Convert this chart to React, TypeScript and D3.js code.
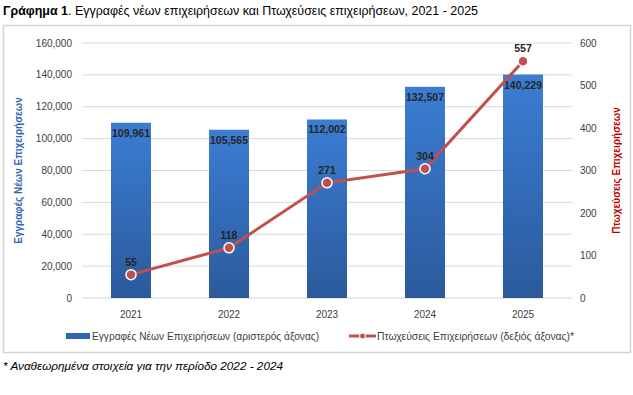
import React from "react";
import * as d3 from "d3";

const years = ["2021", "2022", "2023", "2024", "2025"];
const registrations = [109961, 105565, 112002, 132507, 140229];
const bankruptcies = [55, 118, 271, 304, 557];
const leftTicks = [0, 20000, 40000, 60000, 80000, 100000, 120000, 140000, 160000];
const rightTicks = [0, 100, 200, 300, 400, 500, 600];

const W = 633, H = 395;
const plotL = 82, plotR = 572, plotT = 43, plotB = 298;
const FONT = "'Liberation Sans', Arial, sans-serif";

export default function App() {
  const x = d3.scaleBand<string>().domain(years).range([plotL, plotR]).paddingInner(58 / 98).paddingOuter(29 / 98);
  const yL = d3.scaleLinear().domain([0, 160000]).range([plotB, plotT]);
  const yR = d3.scaleLinear().domain([0, 600]).range([plotB, plotT]);
  const fmt = d3.format(",");
  const cx = (y: string) => (x(y) as number) + x.bandwidth() / 2;
  const line = d3.line<number>().x((_, i) => cx(years[i])).y((d) => yR(d));

  return (
    <svg width={W} height={H} style={{ position: "absolute", left: 0, top: 0, background: "#fff" }} fontFamily={FONT}>
      <defs>
        <linearGradient id="barGrad" x1="0" y1="0" x2="0" y2="1">
          <stop offset="0%" stopColor="#3b7dd3" />
          <stop offset="100%" stopColor="#2b5a9c" />
        </linearGradient>
      </defs>
      <text x={3} y={15} fontSize={12} fill="#000" textLength={475} lengthAdjust="spacingAndGlyphs">
        <tspan fontWeight="bold">Γράφημα 1</tspan>
        <tspan>. Εγγραφές νέων επιχειρήσεων και Πτωχεύσεις επιχειρήσεων, 2021 - 2025</tspan>
      </text>
      <rect x={3.5} y={25.5} width={627} height={327} fill="#fff" stroke="#d4d4d4" strokeWidth={1.5} />
      {leftTicks.map((t) => (
        <g key={t}>
          <line x1={plotL} x2={plotR} y1={yL(t)} y2={yL(t)} stroke={t === 0 ? "#c9d6ea" : "#d9d9d9"} strokeWidth={1} />
          <text x={72} y={yL(t)} dy="0.35em" textAnchor="end" fontSize={10} fill="#404040">{fmt(t)}</text>
        </g>
      ))}
      {rightTicks.map((t) => (
        <text key={t} x={580} y={yR(t)} dy="0.35em" textAnchor="start" fontSize={10} fill="#404040">{t}</text>
      ))}
      {years.map((y, i) => (
        <g key={y}>
          <rect x={x(y)} y={yL(registrations[i])} width={x.bandwidth()} height={plotB - yL(registrations[i])} fill="url(#barGrad)" />
          <text x={cx(y)} y={yL(registrations[i]) + 14} textAnchor="middle" fontSize={10.5} fontWeight="bold" fill="#262626">{fmt(registrations[i])}</text>
          <text x={cx(y)} y={318} textAnchor="middle" fontSize={10} fill="#404040">{y}</text>
        </g>
      ))}
      <path d={line(bankruptcies) || ""} fill="none" stroke="#c0504d" strokeWidth={3} />
      {bankruptcies.map((v, i) => (
        <g key={i}>
          <circle cx={cx(years[i])} cy={yR(v)} r={5} fill="#c0504d" stroke="#fff" strokeWidth={1.5} />
          <text x={cx(years[i])} y={yR(v) - 9} textAnchor="middle" fontSize={10.5} fontWeight="bold" fill="#262626">{v}</text>
        </g>
      ))}
      <text transform={`translate(22,${(plotT + plotB) / 2}) rotate(-90)`} textAnchor="middle" fontSize={10} fontWeight="bold" fill="#2f64b4">Εγγραφές Νέων Επιχειρήσεων</text>
      <text transform={`translate(620,${(plotT + plotB) / 2}) rotate(-90)`} textAnchor="middle" fontSize={10} fontWeight="bold" fill="#c00000">Πτωχεύσεις Επιχειρήσεων</text>
      <rect x={66} y={333} width={24} height={6} fill="#2f66b3" />
      <text x={92} y={340} fontSize={10.5} fill="#404040" textLength={227} lengthAdjust="spacingAndGlyphs">Εγγραφές Νέων Επιχειρήσεων (αριστερός άξονας)</text>
      <line x1={349} x2={376} y1={336} y2={336} stroke="#c0504d" strokeWidth={3} />
      <circle cx={362.5} cy={336} r={3} fill="#c0504d" stroke="#fff" strokeWidth={1} />
      <text x={377} y={340} fontSize={10.5} fill="#404040" textLength={197} lengthAdjust="spacingAndGlyphs">Πτωχεύσεις Επιχειρήσεων (δεξιός άξονας)*</text>
      <text x={3} y={370} fontSize={11.5} fontStyle="italic" fill="#000" textLength={280} lengthAdjust="spacingAndGlyphs">* Αναθεωρημένα στοιχεία για την περίοδο 2022 - 2024</text>
    </svg>
  );
}
